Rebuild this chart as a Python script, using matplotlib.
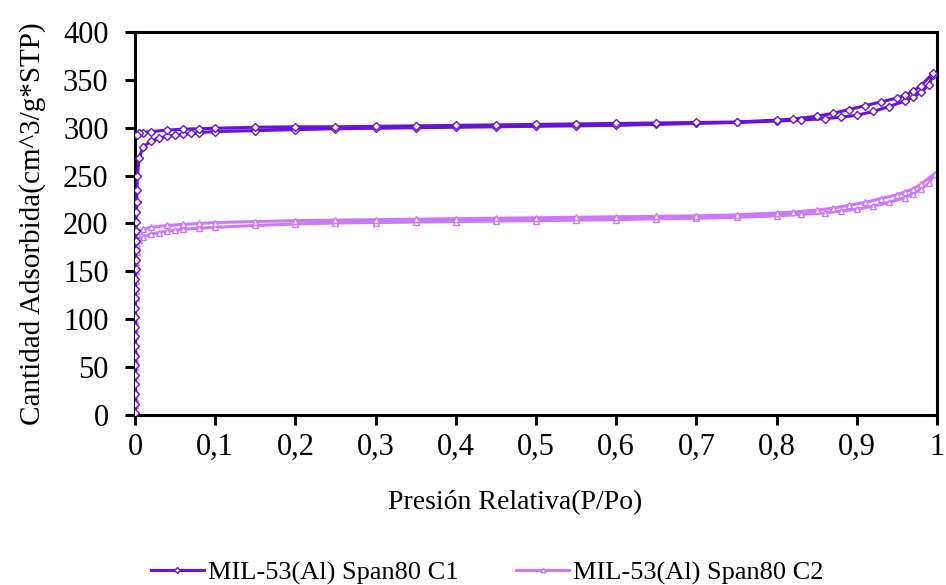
import matplotlib
matplotlib.use("Agg")
import matplotlib.pyplot as plt

# MIL-53(Al) Span80 C1 -- adsorption then desorption branch
c1_ads_p = [0.00002, 0.00004, 0.00006, 0.00008, 0.0001, 0.00012, 0.00015, 0.00018,
            0.0002, 0.00025, 0.0003, 0.00035, 0.0004, 0.0005, 0.0006, 0.0007,
            0.0008, 0.0009, 0.001, 0.0012, 0.0014, 0.0017, 0.002, 0.0025, 0.003,
            0.005, 0.01, 0.02, 0.03, 0.04, 0.05, 0.06, 0.07, 0.08, 0.1, 0.15,
            0.2, 0.25, 0.3, 0.35, 0.4, 0.45, 0.5, 0.55, 0.6, 0.65, 0.7, 0.75,
            0.8, 0.83, 0.86, 0.88, 0.9, 0.92, 0.94, 0.96, 0.97, 0.98, 0.99, 0.995]
c1_ads_v = [2, 12, 22, 32, 42, 52, 62, 72, 82, 92, 102, 112, 122, 132, 142, 152,
            162, 172, 182, 192, 202, 212, 222, 235, 250, 268, 280, 286, 289, 291,
            292, 293, 294, 295, 296, 297, 298, 299, 299.5, 300, 300.5, 301, 301.5,
            302, 302.5, 303.5, 304.5, 305.5, 307, 308, 309.5, 311, 313, 317, 322,
            328, 332, 337, 345, 355]
c1_des_p = [0.995, 0.98, 0.97, 0.96, 0.95, 0.93, 0.91, 0.89, 0.87, 0.85, 0.82,
            0.8, 0.75, 0.7, 0.65, 0.6, 0.55, 0.5, 0.45, 0.4, 0.35, 0.3, 0.25,
            0.2, 0.15, 0.1, 0.08, 0.06, 0.04, 0.02, 0.01, 0.005, 0.002]
c1_des_v = [357, 344, 338, 334, 331, 327, 323, 319, 315, 312, 309, 308, 306,
            305.5, 305, 304.5, 304, 303.5, 303, 302.5, 302, 301.5, 301, 301,
            300.5, 299.5, 299, 298.5, 297.5, 296, 295, 294, 292]

# MIL-53(Al) Span80 C2 -- adsorption then desorption branch
c2_ads_p = [0.00002, 0.00004, 0.00006, 0.00008, 0.0001, 0.00012, 0.00015, 0.00018,
            0.0002, 0.00025, 0.0003, 0.00035, 0.0004, 0.0005, 0.0006, 0.0007,
            0.0008, 0.001, 0.0013, 0.0017, 0.0022, 0.003, 0.005, 0.01, 0.02,
            0.03, 0.04, 0.05, 0.06, 0.08, 0.1, 0.15, 0.2, 0.25, 0.3, 0.35, 0.4,
            0.45, 0.5, 0.55, 0.6, 0.65, 0.7, 0.75, 0.8, 0.83, 0.86, 0.88, 0.9,
            0.92, 0.94, 0.96, 0.97, 0.98, 0.99, 0.997]
c2_ads_v = [2, 10, 18, 26, 34, 42, 50, 58, 66, 74, 82, 90, 98, 106, 114, 122,
            130, 140, 150, 160, 170, 178, 183, 186, 189, 190.5, 192, 193, 194,
            195, 196, 198, 199.5, 200.5, 201, 201.5, 202, 202.5, 203, 203.5, 204,
            205, 205.5, 206.5, 208, 209.5, 211, 213, 215, 218, 222, 227, 231,
            236, 242, 252]
c2_des_p = [0.997, 0.98, 0.97, 0.96, 0.95, 0.93, 0.91, 0.89, 0.87, 0.85, 0.82,
            0.8, 0.75, 0.7, 0.65, 0.6, 0.55, 0.5, 0.45, 0.4, 0.35, 0.3, 0.25,
            0.2, 0.15, 0.1, 0.08, 0.06, 0.04, 0.02, 0.01, 0.005, 0.002]
c2_des_v = [252, 241, 236, 233, 230, 226, 222, 219, 216, 214, 212, 211, 209,
            208, 207.5, 207, 206.5, 206, 205.5, 205, 204.5, 204, 203.5, 203,
            202, 201, 200, 199, 198, 196, 194, 192, 189]

x_ticks = [0, 0.1, 0.2, 0.3, 0.4, 0.5, 0.6, 0.7, 0.8, 0.9, 1.0]
x_tick_labels = ["0", "0,1", "0,2", "0,3", "0,4", "0,5", "0,6", "0,7", "0,8", "0,9", "1"]
y_ticks = [0, 50, 100, 150, 200, 250, 300, 350, 400]

c1_color = "#6a12d8"
c2_color = "#cc78f8"

plt.rcParams["font.family"] = ["Liberation Serif", "DejaVu Serif"]

fig = plt.figure(figsize=(9.46, 5.85), dpi=100)
ax = fig.add_axes([0.1427, 0.2906, 0.8478, 0.6547])

common = dict(markerfacecolor="white", markeredgewidth=1.0, linewidth=2.2)
ax.plot(c1_ads_p + c1_des_p, c1_ads_v + c1_des_v, color=c1_color, marker="D",
        markersize=4.2, markeredgecolor=c1_color, label="MIL-53(Al) Span80 C1",
        zorder=3, **common)
ax.plot(c2_ads_p + c2_des_p, c2_ads_v + c2_des_v, color=c2_color, marker="^",
        markersize=5, markeredgecolor=c2_color, label="MIL-53(Al) Span80 C2",
        zorder=2, **common)

ax.set_xlim(0, 1)
ax.set_ylim(0, 400)
ax.set_xticks(x_ticks)
ax.set_xticklabels(x_tick_labels)
ax.set_yticks(y_ticks)
ax.tick_params(axis="both", direction="out", length=7, width=2.2,
               labelsize=22, colors="black")
ax.tick_params(axis="x", pad=6)
ax.tick_params(axis="y", pad=12)
for s in ax.spines.values():
    s.set_linewidth(2.2)
    s.set_color("black")

ax.set_xlabel("Presión Relativa(P/Po)", fontsize=20)
ax.xaxis.set_label_coords(0.474, -0.195)
ax.set_ylabel("Cantidad Adsorbida(cm^3/g*STP)", fontsize=21, labelpad=12)

leg = fig.legend(loc="lower center", bbox_to_anchor=(0.515, -0.04), ncol=2,
                 frameon=False, fontsize=19, handlelength=2.0, handletextpad=0.15,
                 columnspacing=2.2, markerscale=0.7)

fig.savefig("out.png", dpi=100)
